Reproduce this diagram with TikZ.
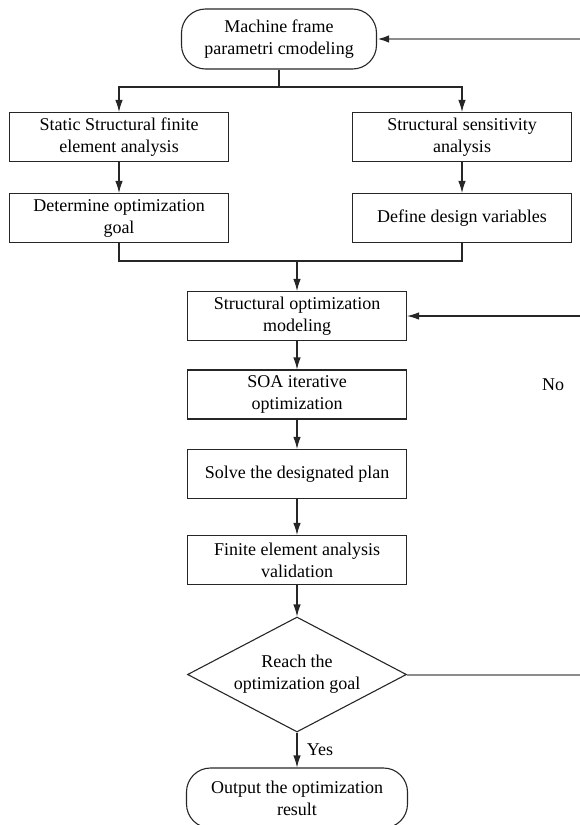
\documentclass[tikz,border=0pt]{standalone}
\usepackage{fontspec}
\setmainfont{Liberation Serif}
\usepackage{tikz}
\usetikzlibrary{arrows.meta,shapes.geometric}

\tikzset{
  stepbox/.style={draw=black!85, line width=1.1pt, minimum width=219pt, minimum height=49pt,
    align=center, inner sep=2pt, font=\fontsize{18}{22}\selectfont},
  endbox/.style={stepbox, rounded corners=24pt, minimum height=60pt},
  testbox/.style={draw=black!85, line width=1.1pt, diamond, aspect=1.9, minimum width=219pt, minimum height=115pt,
    inner sep=0pt, align=center, font=\fontsize{18}{22}\selectfont},
  link/.style={draw=black!85, line width=1.1pt},
  arr/.style={link, -{Latex[length=12pt,width=7.5pt]}},
  back/.style={draw=black!45, line width=2pt}
}

\begin{document}
\begin{tikzpicture}[x=1pt,y=-1pt]
    \useasboundingbox (0,0) rectangle (580,825);
    \def\cx{297} % main column
    \node[endbox, minimum width=195pt] (start) at (279,39) {Machine frame\\parametri cmodeling};
    \node[stepbox] (sfea) at (119,137) {Static Structural finite\\element analysis};
    \node[stepbox] (goal) at (119,218) {Determine optimization\\goal};
    \node[stepbox] (sens) at (462,137) {Structural sensitivity\\analysis};
    \node[stepbox] (dvar) at (462,218) {Define design variables};
    \node[stepbox] (som) at (\cx,316) {Structural optimization\\modeling};
    \node[stepbox] (soa) at (\cx,394.5) {SOA iterative\\optimization};
    \node[stepbox] (plan) at (\cx,474) {Solve the designated plan};
    \node[stepbox] (fea) at (\cx,560) {Finite element analysis\\validation};
    \node[testbox] (reach) at (\cx,674.5) {Reach the\\optimization goal};
    \node[endbox, minimum width=221pt] (out) at (\cx,798) {Output the optimization\\result};
    \node[font=\fontsize{18}{22}\selectfont] (no) at (553,385) {No};

    \coordinate (fork) at (279,87);
    \coordinate (join) at (\cx,261);
    \coordinate (fb1) at (580,39);
    \coordinate (fb2) at (580,316);
    \coordinate (fb3) at (580,674.5);

    \draw[link] (start.south) -- (fork);
    \draw[arr] (fork) -| (sfea.north);
    \draw[arr] (fork) -| (sens.north);
    \draw[arr] (sfea) -- (goal);
    \draw[arr] (sens) -- (dvar);
    \draw[link] (goal.south) |- (join) -| (dvar.south);
    \draw[arr] (join) -- (som.north);
    \draw[arr] (som) -- (soa);
    \draw[arr] (soa) -- (plan);
    \draw[arr] (plan) -- (fea);
    \draw[arr] (fea) -- (reach);
    \draw[arr] (reach) -- node[right, font=\fontsize{18}{22}\selectfont, xshift=6pt]{Yes} (out);
    \draw[back] (reach.east) -- (fb3);
    \draw[arr] (fb2) -- (som.east);
    \draw[back, -{Latex[length=12pt,width=7.5pt,color=black!85]}] (fb1) -- (start.east);
  \end{tikzpicture}
\end{document}
